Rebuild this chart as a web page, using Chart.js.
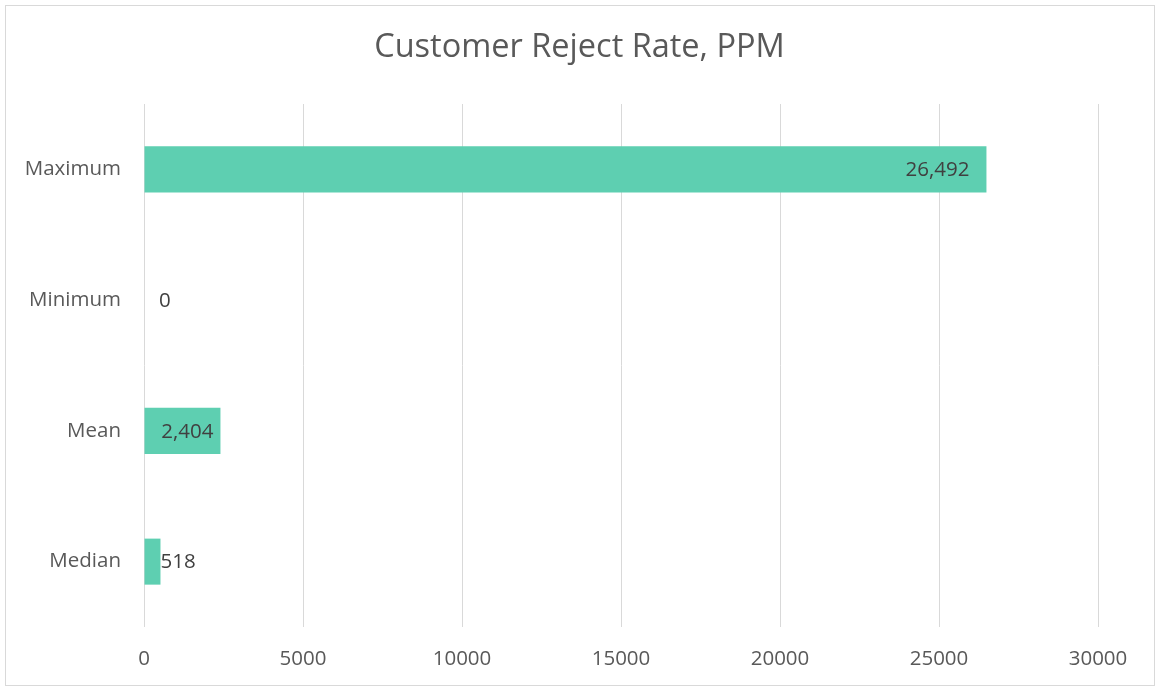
<!DOCTYPE html>
<html>
<head>
<meta charset="utf-8">
<script src="https://cdn.jsdelivr.net/npm/chart.js@4/dist/chart.umd.min.js"></script>
<style>
  html, body { margin: 0; padding: 0; background: #ffffff; }
  #wrap { width: 1159px; height: 688px; position: relative; }
</style>
</head>
<body>
<div id="wrap"><canvas id="c" width="1159" height="688"></canvas></div>
<script>
const categories = ['Maximum', 'Minimum', 'Mean', 'Median'];
const rejectValues = [26492, 0, 2404, 518];
const xTickMin = 0;
const xTickMax = 30000;
const xTickStep = 5000;
const chartTitle = 'Customer Reject Rate, PPM';

const FONT = "'Open Sans', 'Noto Sans', sans-serif";

const frame = {
  id: 'frame',
  beforeDraw(chart) {
    const ctx = chart.ctx;
    ctx.save();
    ctx.fillStyle = '#ffffff';
    ctx.fillRect(0, 0, chart.width, chart.height);
    ctx.strokeStyle = '#d9d9d9';
    ctx.lineWidth = 1;
    ctx.strokeRect(5.5, 5.5, chart.width - 10, chart.height - 8);
    // chart title, centred on the whole chart frame
    ctx.font = '32.5px ' + FONT;
    ctx.fillStyle = '#595959';
    ctx.textAlign = 'center';
    ctx.textBaseline = 'middle';
    ctx.fillText(chartTitle, chart.width / 2, 48);
    ctx.restore();
  }
};

const barLabels = {
  id: 'barLabels',
  afterDatasetsDraw(chart) {
    const ctx = chart.ctx;
    const meta = chart.getDatasetMeta(0);
    const xs = chart.scales.x;
    const x0 = xs.getPixelForValue(0);
    ctx.save();
    ctx.font = '20.5px ' + FONT;
    ctx.fillStyle = '#404040';
    ctx.textBaseline = 'middle';
    meta.data.forEach((bar, i) => {
      const v = rejectValues[i];
      const txt = v.toLocaleString('en-US');
      const w = ctx.measureText(txt).width;
      const barW = bar.x - x0;
      if (w + 14 <= barW) {
        const off = barW > w + 40 ? 17 : 7;
        ctx.textAlign = 'right';
        ctx.fillText(txt, bar.x - off, bar.y + 1);
      } else {
        ctx.textAlign = 'left';
        ctx.fillText(txt, Math.max(bar.x, x0 + 15), bar.y + 1);
      }
    });
    ctx.restore();
  }
};

new Chart(document.getElementById('c'), {
  type: 'bar',
  data: {
    labels: categories,
    datasets: [{
      data: rejectValues,
      backgroundColor: '#5ECFB1',
      borderWidth: 0,
      categoryPercentage: 1,
      barPercentage: 0.352
    }]
  },
  options: {
    indexAxis: 'y',
    responsive: false,
    animation: false,
    devicePixelRatio: 1,
    layout: { padding: { left: 0, right: 61, top: 104, bottom: 0 } },
    plugins: {
      legend: { display: false },
      tooltip: { enabled: false },
      title: { display: false }
    },
    scales: {
      x: {
        min: xTickMin,
        max: xTickMax,
        ticks: {
          stepSize: xTickStep,
          color: '#595959',
          font: { family: FONT, size: 20.5 },
          padding: 20,
          callback: (v) => String(v)
        },
        grid: { color: '#d9d9d9', lineWidth: 1, drawTicks: false },
        border: { display: false },
        afterFit(scale) { scale.height = 61; }
      },
      y: {
        ticks: {
          color: '#595959',
          font: { family: FONT, size: 20.5 },
          padding: 23
        },
        grid: { display: false, drawTicks: false },
        border: { display: false },
        afterFit(scale) { scale.width = 144; }
      }
    }
  },
  plugins: [frame, barLabels]
});
</script>
</body>
</html>
